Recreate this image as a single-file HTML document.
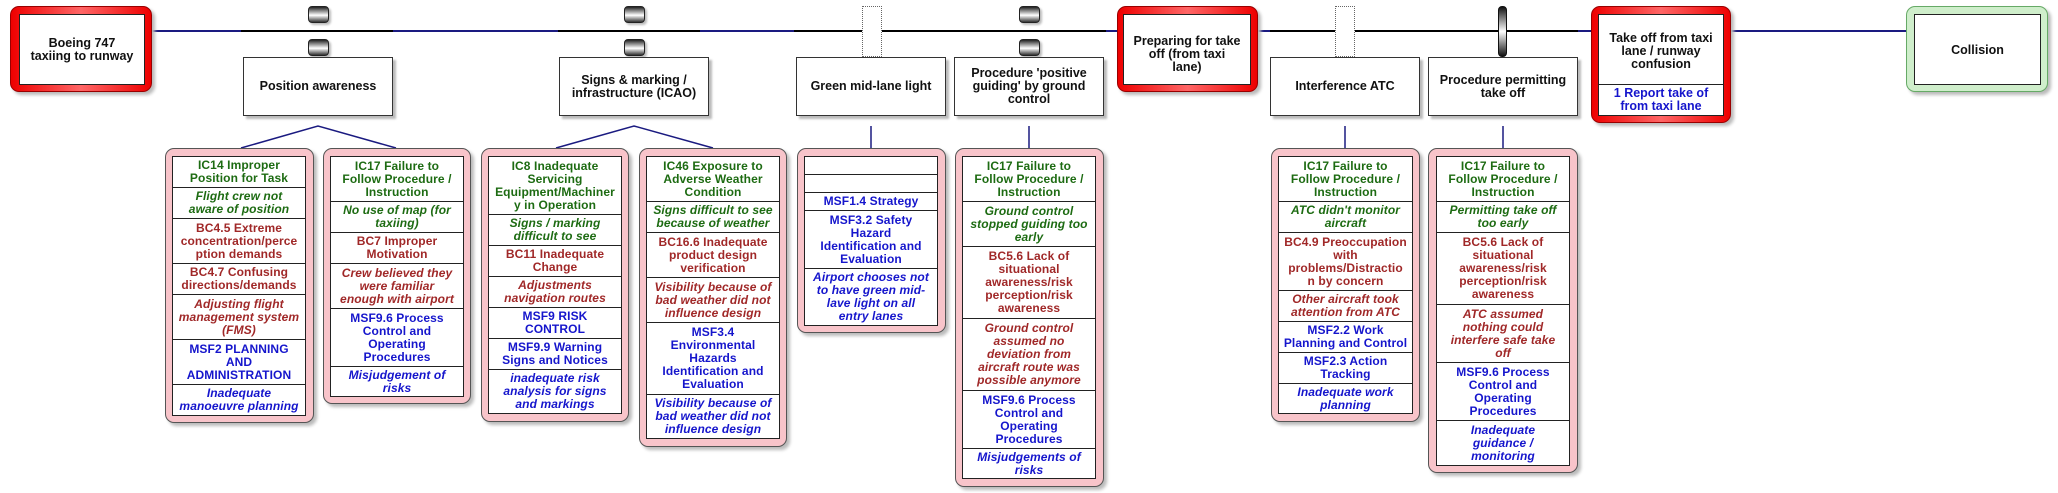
<!DOCTYPE html>
<html><head><meta charset="utf-8"><style>
*{box-sizing:border-box;margin:0;padding:0}
body{width:2058px;height:493px;background:#fff;position:relative;overflow:hidden;font-family:"Liberation Sans",sans-serif;font-weight:bold}
.a{position:absolute}
.ln{position:absolute;height:2px;top:30px}
.node{position:absolute;top:57px;height:59px;background:#fff;border:1px solid #333;box-shadow:3px 3px 2px #bbb;display:flex;align-items:center;justify-content:center;text-align:center;font-size:12.5px;line-height:13px;color:#111;white-space:nowrap}
.ev{position:absolute;border-radius:9px;box-shadow:3px 3px 3px #bbb}
.evin{position:absolute;background:#fff;border:1px solid #222;display:flex;align-items:center;justify-content:center;text-align:center;font-size:12.5px;line-height:13px;color:#111;white-space:nowrap}
.pill{position:absolute;width:21px;height:17px;border:1px solid #222;border-radius:4px;background:linear-gradient(#222,#fff 55%,#333);box-shadow:2px 2px 2px #bbb}
.dot{position:absolute;border:1px dotted #666;background:#fff}
.card{position:absolute;background:#f8c4ca;border:1px solid #555;border-radius:9px;box-shadow:3px 3px 3px #bbb}
.in{position:absolute;background:#fff;border:1px solid #222;display:flex;flex-direction:column}
.r{border-bottom:1px solid #222;display:flex;align-items:center;justify-content:center;text-align:center;font-size:12px;letter-spacing:0.1px;line-height:13px;white-space:nowrap;overflow:visible}
.r:last-child{border-bottom:none}
.g{color:#1d6b12}.gi{color:#1d6b12;font-style:italic}
.d{color:#a02828}.di{color:#a02828;font-style:italic}
.b{color:#1515cc}.bi{color:#1515cc;font-style:italic}
</style></head><body>

<div class="ln" style="left:152px;width:965px;background:#1a1a80"></div>
<div class="ln" style="left:241px;width:152px;background:#000"></div>
<div class="ln" style="left:558px;width:142px;background:#000"></div>
<div class="ln" style="left:794px;width:312px;background:#000"></div>
<div class="ln" style="left:1258px;width:333px;background:#000"></div>
<div class="ln" style="left:1258px;width:12px;background:#1a1a80"></div>
<div class="ln" style="left:1578px;width:13px;background:#1a1a80"></div>
<div class="ln" style="left:1731px;width:175px;background:#1a1a80"></div>

<svg class="a" style="left:0;top:0" width="2058" height="493">
<polyline points="241,148 318,126 396,148" fill="none" stroke="#1a1a80" stroke-width="1.5"/>
<polyline points="556,148 634,126 713,148" fill="none" stroke="#1a1a80" stroke-width="1.5"/>
<line x1="871" y1="126" x2="871" y2="148" stroke="#1a1a80" stroke-width="1.5"/>
<line x1="1029" y1="126" x2="1029" y2="148" stroke="#1a1a80" stroke-width="1.5"/>
<line x1="1345" y1="126" x2="1345" y2="148" stroke="#1a1a80" stroke-width="1.5"/>
<line x1="1503" y1="126" x2="1503" y2="148" stroke="#1a1a80" stroke-width="1.5"/>
</svg>

<div class="ev" style="left:10px;top:6px;width:142px;height:86px;background:linear-gradient(90deg,#e00,#f66 50%,#e00);border:1px solid #900"></div>
<div class="evin" style="left:19px;top:14px;width:126px;height:71px">Boeing 747<br>taxiing to runway</div>

<div class="ev" style="left:1117px;top:6px;width:141px;height:86px;background:linear-gradient(90deg,#e00,#f66 50%,#e00);border:1px solid #900"></div>
<div class="evin" style="left:1123px;top:14px;width:128px;height:71px;align-items:flex-start;padding-top:20px">Preparing for take<br>off (from taxi<br>lane)</div>

<div class="ev" style="left:1591px;top:6px;width:140px;height:117px;background:linear-gradient(90deg,#e00,#f66 50%,#e00);border:1px solid #900"></div>
<div class="evin" style="left:1598px;top:14px;width:126px;height:71px;align-items:flex-start;padding-top:17px">Take off from taxi<br>lane / runway<br>confusion</div>
<div class="evin" style="left:1598px;top:84px;width:126px;height:32px;color:#1515cc">1 Report take of<br>from taxi lane</div>

<div class="ev" style="left:1906px;top:6px;width:142px;height:86px;background:#cfeecb;border:1px solid #6a6"></div>
<div class="evin" style="left:1914px;top:14px;width:127px;height:71px;align-items:flex-start;padding-top:29px">Collision</div>

<div class="pill" style="left:308px;top:6px"></div><div class="pill" style="left:308px;top:39px"></div>
<div class="pill" style="left:624px;top:6px"></div><div class="pill" style="left:624px;top:39px"></div>
<div class="dot" style="left:862px;top:6px;width:20px;height:51px"></div>
<div class="pill" style="left:1019px;top:6px"></div><div class="pill" style="left:1019px;top:39px"></div>
<div class="dot" style="left:1335px;top:6px;width:20px;height:51px"></div>
<div class="a" style="left:1498px;top:6px;width:9px;height:51px;border-radius:4px;border:1px solid #111;background:linear-gradient(#111,#fff 50%,#111)"></div>

<div class="node" style="left:243px;width:150px">Position awareness</div>
<div class="node" style="left:559px;width:150px">Signs &amp; marking /<br>infrastructure (ICAO)</div>
<div class="node" style="left:796px;width:150px">Green mid-lane light</div>
<div class="node" style="left:954px;width:150px">Procedure 'positive<br>guiding' by ground<br>control</div>
<div class="node" style="left:1270px;width:150px">Interference ATC</div>
<div class="node" style="left:1428px;width:150px">Procedure permitting<br>take off</div>

<div class="card" style="left:165px;top:148px;width:149px;height:275px"></div>
<div class="in" style="left:172px;top:156px;width:134px;height:260px">
<div class="r g" style="height:31px">IC14 Improper<br>Position for Task</div>
<div class="r gi" style="height:31px">Flight crew not<br>aware of position</div>
<div class="r d" style="height:45px">BC4.5 Extreme<br>concentration/perce<br>ption demands</div>
<div class="r d" style="height:31px">BC4.7 Confusing<br>directions/demands</div>
<div class="r di" style="height:45px">Adjusting flight<br>management system<br>(FMS)</div>
<div class="r b" style="height:45px">MSF2 PLANNING<br>AND<br>ADMINISTRATION</div>
<div class="r bi" style="flex:1">Inadequate<br>manoeuvre planning</div>
</div>

<div class="card" style="left:323px;top:148px;width:148px;height:256px"></div>
<div class="in" style="left:330px;top:156px;width:134px;height:241px">
<div class="r g" style="height:45px">IC17 Failure to<br>Follow Procedure /<br>Instruction</div>
<div class="r gi" style="height:31px">No use of map (for<br>taxiing)</div>
<div class="r d" style="height:31px">BC7 Improper<br>Motivation</div>
<div class="r di" style="height:45px">Crew believed they<br>were familiar<br>enough with airport</div>
<div class="r b" style="height:58px">MSF9.6 Process<br>Control and<br>Operating<br>Procedures</div>
<div class="r bi" style="flex:1">Misjudgement of<br>risks</div>
</div>

<div class="card" style="left:481px;top:148px;width:148px;height:274px"></div>
<div class="in" style="left:488px;top:156px;width:134px;height:258px">
<div class="r g" style="height:58px">IC8 Inadequate<br>Servicing<br>Equipment/Machiner<br>y in Operation</div>
<div class="r gi" style="height:31px">Signs / marking<br>difficult to see</div>
<div class="r d" style="height:31px">BC11 Inadequate<br>Change</div>
<div class="r di" style="height:31px">Adjustments<br>navigation routes</div>
<div class="r b" style="height:31px">MSF9 RISK<br>CONTROL</div>
<div class="r b" style="height:31px">MSF9.9 Warning<br>Signs and Notices</div>
<div class="r bi" style="flex:1">inadequate risk<br>analysis for signs<br>and markings</div>
</div>

<div class="card" style="left:639px;top:148px;width:148px;height:299px"></div>
<div class="in" style="left:646px;top:156px;width:134px;height:283px">
<div class="r g" style="height:45px">IC46 Exposure to<br>Adverse Weather<br>Condition</div>
<div class="r gi" style="height:31px">Signs difficult to see<br>because of weather</div>
<div class="r d" style="height:45px">BC16.6 Inadequate<br>product design<br>verification</div>
<div class="r di" style="height:45px">Visibility because of<br>bad weather did not<br>influence design</div>
<div class="r b" style="height:72px">MSF3.4<br>Environmental<br>Hazards<br>Identification and<br>Evaluation</div>
<div class="r bi" style="flex:1">Visibility because of<br>bad weather did not<br>influence design</div>
</div>

<div class="card" style="left:797px;top:148px;width:149px;height:185px"></div>
<div class="in" style="left:804px;top:156px;width:134px;height:170px">
<div class="r" style="height:18px"></div>
<div class="r" style="height:18px"></div>
<div class="r b" style="height:18px">MSF1.4 Strategy</div>
<div class="r b" style="height:58px">MSF3.2 Safety<br>Hazard<br>Identification and<br>Evaluation</div>
<div class="r bi" style="flex:1">Airport chooses not<br>to have green mid-<br>lave light on all<br>entry lanes</div>
</div>

<div class="card" style="left:955px;top:148px;width:149px;height:339px"></div>
<div class="in" style="left:962px;top:156px;width:134px;height:323px">
<div class="r g" style="height:45px">IC17 Failure to<br>Follow Procedure /<br>Instruction</div>
<div class="r gi" style="height:45px">Ground control<br>stopped guiding too<br>early</div>
<div class="r d" style="height:72px">BC5.6 Lack of<br>situational<br>awareness/risk<br>perception/risk<br>awareness</div>
<div class="r di" style="height:72px">Ground control<br>assumed no<br>deviation from<br>aircraft route was<br>possible anymore</div>
<div class="r b" style="height:58px">MSF9.6 Process<br>Control and<br>Operating<br>Procedures</div>
<div class="r bi" style="flex:1">Misjudgements of<br>risks</div>
</div>

<div class="card" style="left:1271px;top:148px;width:149px;height:274px"></div>
<div class="in" style="left:1278px;top:156px;width:135px;height:258px">
<div class="r g" style="height:45px">IC17 Failure to<br>Follow Procedure /<br>Instruction</div>
<div class="r gi" style="height:31px">ATC didn't monitor<br>aircraft</div>
<div class="r d" style="height:58px">BC4.9 Preoccupation<br>with<br>problems/Distractio<br>n by concern</div>
<div class="r di" style="height:31px">Other aircraft took<br>attention from ATC</div>
<div class="r b" style="height:31px">MSF2.2 Work<br>Planning and Control</div>
<div class="r b" style="height:31px">MSF2.3 Action<br>Tracking</div>
<div class="r bi" style="flex:1">Inadequate work<br>planning</div>
</div>

<div class="card" style="left:1428px;top:148px;width:150px;height:325px"></div>
<div class="in" style="left:1436px;top:156px;width:134px;height:310px">
<div class="r g" style="height:45px">IC17 Failure to<br>Follow Procedure /<br>Instruction</div>
<div class="r gi" style="height:31px">Permitting take off<br>too early</div>
<div class="r d" style="height:72px">BC5.6 Lack of<br>situational<br>awareness/risk<br>perception/risk<br>awareness</div>
<div class="r di" style="height:58px">ATC assumed<br>nothing could<br>interfere safe take<br>off</div>
<div class="r b" style="height:58px">MSF9.6 Process<br>Control and<br>Operating<br>Procedures</div>
<div class="r bi" style="flex:1">Inadequate<br>guidance /<br>monitoring</div>
</div>

</body></html>
